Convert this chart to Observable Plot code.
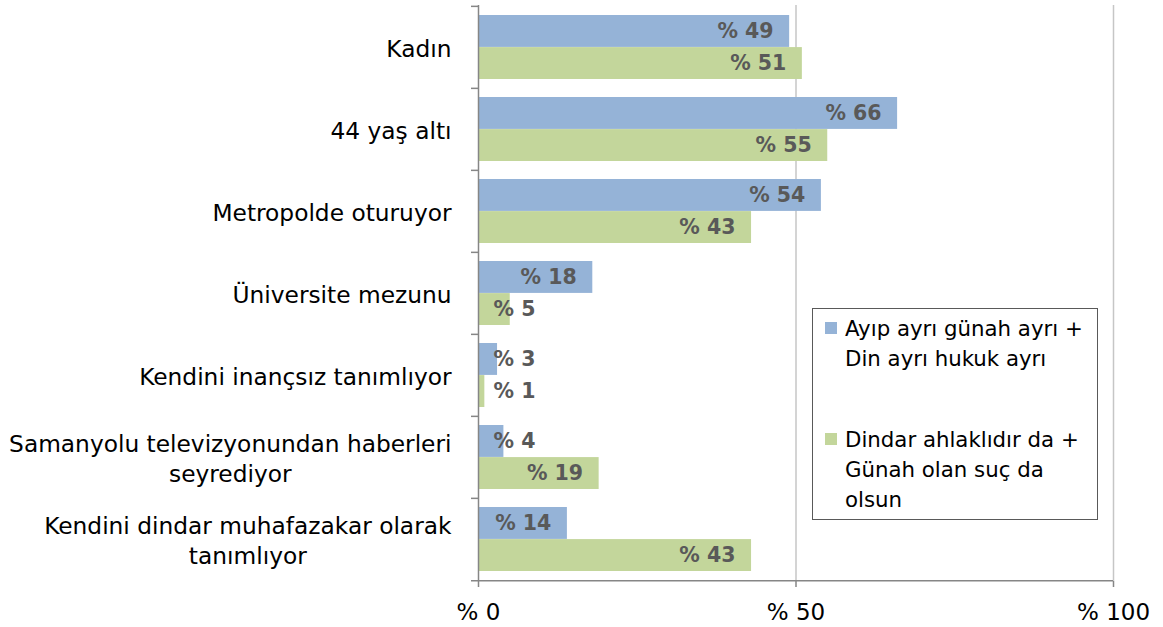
<!DOCTYPE html>
<html>
<head>
<meta charset="utf-8">
<script src="https://cdn.jsdelivr.net/npm/d3@7"></script>
<script src="https://cdn.jsdelivr.net/npm/@observablehq/plot@0.6"></script>
<style>
  html, body { margin: 0; padding: 0; background: #fff; }
  #wrap { position: relative; width: 1163px; height: 627px; font-family: "DejaVu Sans", sans-serif; }
  #legend { position: absolute; left: 812px; top: 308px; width: 286px; height: 212px;
            border: 1.5px solid #595959; background: #fff; box-sizing: border-box; }
  .item { position: absolute; left: 32px; font-size: 21.3px; line-height: 30px; color: #000; white-space: pre; }
  .sw { position: absolute; left: -20px; top: 8px; width: 12px; height: 12px; }
</style>
</head>
<body>
<div id="wrap">
  <div id="chart"></div>
  <div id="legend"></div>
</div>
<script>
const categories = [
  "Kadın",
  "44 yaş altı",
  "Metropolde oturuyor",
  "Üniversite mezunu",
  "Kendini inançsız tanımlıyor",
  "Samanyolu televizyonundan haberleri\nseyrediyor",
  "Kendini dindar muhafazakar olarak\ntanımlıyor"
];
const seriesNames = [
  "Ayıp ayrı günah ayrı +\nDin ayrı hukuk ayrı",
  "Dindar ahlaklıdır da +\nGünah olan suç da\nolsun"
];
const blueValues = [49, 66, 54, 18, 3, 4, 14];
const greenValues = [51, 55, 43, 5, 1, 19, 43];
const seriesColors = ["#95b3d7", "#c3d69b"];
const xTicks = [0, 50, 100];

const rows = categories.flatMap((c, i) => [
  {cat: c, s: 0, v: blueValues[i]},
  {cat: c, s: 1, v: greenValues[i]}
]);

const W = 1163, H = 627, mt = 5, mb = 46, ml = 478, mr = 50;
const pIn = 0.22, pOut = 0.11;
const step = (H - mt - mb) / (categories.length - pIn + 2 * pOut);
const half = step * (1 - pIn) / 2;
const font = "DejaVu Sans";
const catSize = 23.3;

const ctx = document.createElement("canvas").getContext("2d");
ctx.font = `${catSize}px "${font}"`;
const labelMarks = categories.map(c => {
  const w = Math.max(...c.split("\n").map(l => ctx.measureText(l).width));
  return Plot.text([c], {y: d => d, text: d => d, frameAnchor: "left", textAnchor: "middle",
    dx: -(27 + w / 2), fontSize: catSize, lineHeight: 1.3, fill: "#000"});
});

const valueLabel = (s, big) => Plot.text(rows.filter(d => d.s === s && (d.v >= 10) === big), {
  x: big ? "v" : undefined,
  frameAnchor: big ? undefined : "left",
  y: "cat",
  text: d => "% " + d.v,
  textAnchor: big ? "end" : "start",
  dx: big ? -16 : 15,
  dy: s === 0 ? -half / 2 : half / 2,
  fontSize: 20.5, fontWeight: "bold", fill: "#595959"
});

const chart = Plot.plot({
  width: W, height: H,
  marginTop: mt, marginBottom: mb, marginLeft: ml, marginRight: mr,
  style: {fontFamily: font, background: "#fff"},
  x: {domain: [0, 100], axis: null},
  y: {domain: categories, paddingInner: pIn, paddingOuter: pOut, axis: null},
  marks: [
    Plot.ruleX([50, 100], {stroke: "#c6c6c6", strokeWidth: 1.5}),
    Plot.barX(rows.filter(d => d.s === 0), {x: "v", y: "cat", fill: seriesColors[0], insetBottom: half}),
    Plot.barX(rows.filter(d => d.s === 1), {x: "v", y: "cat", fill: seriesColors[1], insetTop: half}),
    Plot.ruleX([0], {stroke: "#868686", strokeWidth: 1.5}),
    Plot.ruleY(categories, {y: d => d, dy: -step / 2, x1: 0, x2: 0, insetLeft: -7, stroke: "#868686", strokeWidth: 1.5}),
    Plot.ruleY(categories.slice(-1), {y: d => d, dy: step / 2, insetLeft: -7, stroke: "#868686", strokeWidth: 1.5}),
    Plot.axisX(xTicks, {tickFormat: d => "% " + d, tickSize: 6, tickPadding: 16, fontSize: 23,
      stroke: "#868686", strokeWidth: 1.5, fill: "#000", label: null}),
    valueLabel(0, true), valueLabel(0, false),
    valueLabel(1, true), valueLabel(1, false),
    ...labelMarks
  ]
});
document.getElementById("chart").appendChild(chart);

const legend = document.getElementById("legend");
const tops = [5, 116];
seriesNames.forEach((name, i) => {
  const it = document.createElement("div");
  it.className = "item";
  it.style.top = tops[i] + "px";
  it.textContent = name;
  const sw = document.createElement("div");
  sw.className = "sw";
  sw.style.background = seriesColors[i];
  it.appendChild(sw);
  legend.appendChild(it);
});
</script>
</body>
</html>
